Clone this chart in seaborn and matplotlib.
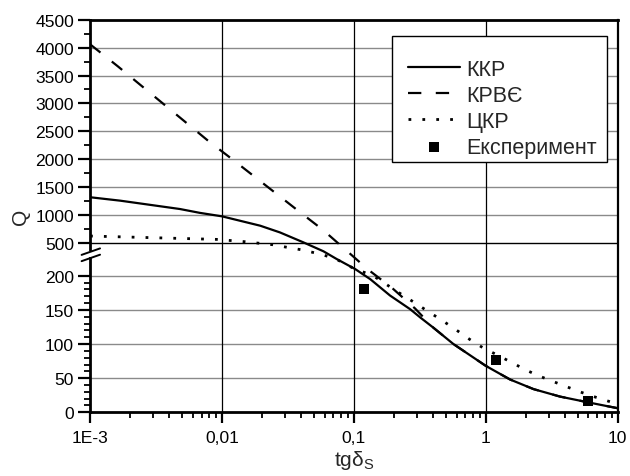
import numpy as np
import pandas as pd
import matplotlib
matplotlib.use("Agg")
import matplotlib.pyplot as plt
from matplotlib.ticker import FixedLocator, FixedFormatter, NullFormatter
from matplotlib.patches import Rectangle
from matplotlib.lines import Line2D
import seaborn as sns

# --- data -------------------------------------------------------------
tg_kkr = [0.001, 0.0017, 0.0048, 0.0068, 0.01, 0.0195, 0.0275, 0.0414, 0.0588,
          0.0741, 0.102, 0.133, 0.188, 0.267, 0.318, 0.4, 0.568, 1.0, 1.53,
          2.3, 3.66, 6.18, 10]
q_kkr = [1320, 1258, 1109, 1040, 978, 810, 690, 512, 424,
         353, 262, 195, 171, 151, 139, 124, 100, 68, 48,
         34, 23, 14, 6]

tg_krve = [0.001, 0.00163, 0.00798, 0.0119, 0.0398, 0.0584, 0.0843, 0.128,
           0.195, 0.291, 0.4, 0.568, 1.0, 1.53, 2.3, 3.66, 6.18, 10]
q_krve = [4060, 3662, 2318, 2005, 1037, 733, 450, 257,
          182, 152, 124, 100, 68, 48, 34, 23, 14, 6]

tg_ckr = [0.001, 0.0091, 0.015, 0.0244, 0.031, 0.0395, 0.055, 0.0719, 0.1,
          0.14, 0.216, 0.281, 0.363, 0.463, 0.593, 0.752, 0.96, 1.22, 1.57,
          2.01, 2.55, 3.25, 4.16, 5.35, 6.83, 8.76, 10]
q_ckr = [625, 565, 523, 484, 461, 439, 400, 358, 266,
         200, 176, 162, 148, 135, 121, 107, 94, 84, 73,
         62, 53, 45, 37, 29, 22, 15.5, 13]

tg_exp = [0.12, 1.2, 6.0]
q_exp = [180, 76, 17]

series_names = ["ККР", "КРВЄ", "ЦКР", "Експеримент"]

x_ticks = [0.001, 0.01, 0.1, 1, 10]
x_tick_labels = ["1E-3", "0,01", "0,1", "1", "10"]
y_ticks = [0, 50, 100, 150, 200, 500, 1000, 1500, 2000, 2500, 3000, 3500, 4000, 4500]

# --- broken y axis: 0-200 linear, 200-500 squeezed, 500-4500 linear ------
def y_fwd(v):
    v = np.asarray(v, dtype=float)
    return np.where(v <= 200, v * 136.6 / 200,
                    np.where(v <= 500, 136.6 + (v - 200) * 32.7 / 300,
                             169.3 + (v - 500) * 223.3 / 4000))

def y_inv(t):
    t = np.asarray(t, dtype=float)
    return np.where(t <= 136.6, t * 200 / 136.6,
                    np.where(t <= 169.3, 200 + (t - 136.6) * 300 / 32.7,
                             500 + (t - 169.3) * 4000 / 223.3))

# --- style --------------------------------------------------------------
sns.set_style("white")
plt.rcParams["font.family"] = ["Liberation Sans", "DejaVu Sans"]
plt.rcParams["mathtext.fontset"] = "custom"
plt.rcParams["mathtext.rm"] = "Liberation Sans"
plt.rcParams["mathtext.it"] = "Liberation Sans"

fig = plt.figure(figsize=(6.30, 4.77), dpi=100)
ax = fig.add_axes([0.1429, 0.1335, 0.9805 - 0.1429, 0.9566 - 0.1335])

ax.set_xscale("log")
ax.set_yscale("function", functions=(y_fwd, y_inv))
ax.set_xlim(0.001, 10)
ax.set_ylim(0, 4500)

# grid
for yt in y_ticks[1:-1]:
    ax.axhline(yt, color="black" if yt == 500 else "#8a8a8a", lw=1.0, zorder=0.5)
for xt in x_ticks[1:-1]:
    ax.axvline(xt, color="black", lw=0.9, zorder=0.5)

df_kkr = pd.DataFrame({"tg": tg_kkr, "Q": q_kkr})
df_krve = pd.DataFrame({"tg": tg_krve, "Q": q_krve})
df_ckr = pd.DataFrame({"tg": tg_ckr, "Q": q_ckr})
df_exp = pd.DataFrame({"tg": tg_exp, "Q": q_exp})

sns.lineplot(data=df_kkr, x="tg", y="Q", ax=ax, color="black", lw=1.6,
             label=series_names[0], zorder=3)
sns.lineplot(data=df_krve, x="tg", y="Q", ax=ax, color="black", lw=1.6,
             linestyle=(0, (6, 6.5)), label=series_names[1], zorder=3)
sns.lineplot(data=df_ckr, x="tg", y="Q", ax=ax, color="black", lw=2.0,
             linestyle=(0, (1, 4)), label=series_names[2], zorder=3)
sns.scatterplot(data=df_exp, x="tg", y="Q", ax=ax, color="black", marker="s",
                s=52, edgecolor="black", linewidth=0, label=series_names[3], zorder=4)

# ticks
ax.xaxis.set_major_locator(FixedLocator(x_ticks))
ax.xaxis.set_major_formatter(FixedFormatter(x_tick_labels))
minor_x = [m * 10.0 ** e for e in range(-3, 1) for m in range(2, 10)]
ax.xaxis.set_minor_locator(FixedLocator(minor_x))
ax.xaxis.set_minor_formatter(NullFormatter())

ax.yaxis.set_major_locator(FixedLocator(y_ticks))
ax.yaxis.set_major_formatter(FixedFormatter([str(v) for v in y_ticks]))
minor_y = [v for v in range(10, 200, 10) if v % 50] + list(range(750, 4500, 500))
ax.yaxis.set_minor_locator(FixedLocator(minor_y))
ax.yaxis.set_minor_formatter(NullFormatter())

ax.tick_params(axis="both", which="major", direction="out", length=8, width=1.6,
               labelsize=12.6, color="black", labelcolor="black")
ax.tick_params(axis="both", which="minor", direction="out", length=4.5, width=1.3,
               color="black")
ax.tick_params(axis="y", which="major", length=9, pad=2.5)
ax.tick_params(axis="x", which="major", pad=5)
ax.tick_params(axis="x", which="both", bottom=True, top=False)
ax.tick_params(axis="y", which="both", left=True, right=False)

for side in ["left", "bottom", "top"]:
    ax.spines[side].set_linewidth(2.0)
    ax.spines[side].set_color("black")
ax.spines["right"].set_linewidth(1.6)
ax.spines["right"].set_color("black")

ax.set_xlabel(r"tg$\delta_S$", fontsize=15, labelpad=2)
ax.set_ylabel("Q", fontsize=15, labelpad=4)

# axis-break marks on the left spine
ax.add_patch(Rectangle((-0.01, 0.3955), 0.02, 0.0165, transform=ax.transAxes,
                       facecolor="white", edgecolor="none", clip_on=False, zorder=10))
for y0 in (0.401, 0.385):
    ax.add_line(Line2D([-0.016, 0.019], [y0, y0 + 0.0165], transform=ax.transAxes,
                       color="black", lw=1.4, clip_on=False, zorder=11))

# legend: entries without frame, frame drawn as a separate box
ax.add_patch(Rectangle((0.572, 0.6375), 0.979 - 0.572, 0.959 - 0.6375,
                       transform=ax.transAxes, facecolor="white", edgecolor="black",
                       lw=1.0, zorder=19))
handles, labels = ax.get_legend_handles_labels()
leg = ax.legend(handles, labels, loc="upper left", bbox_to_anchor=(0.6026, 0.901),
                borderaxespad=0, borderpad=0, fontsize=15.5, frameon=False,
                handlelength=2.4, handletextpad=0.3, labelspacing=0.24)
leg.set_zorder(20)

fig.savefig("out.png", dpi=100)
